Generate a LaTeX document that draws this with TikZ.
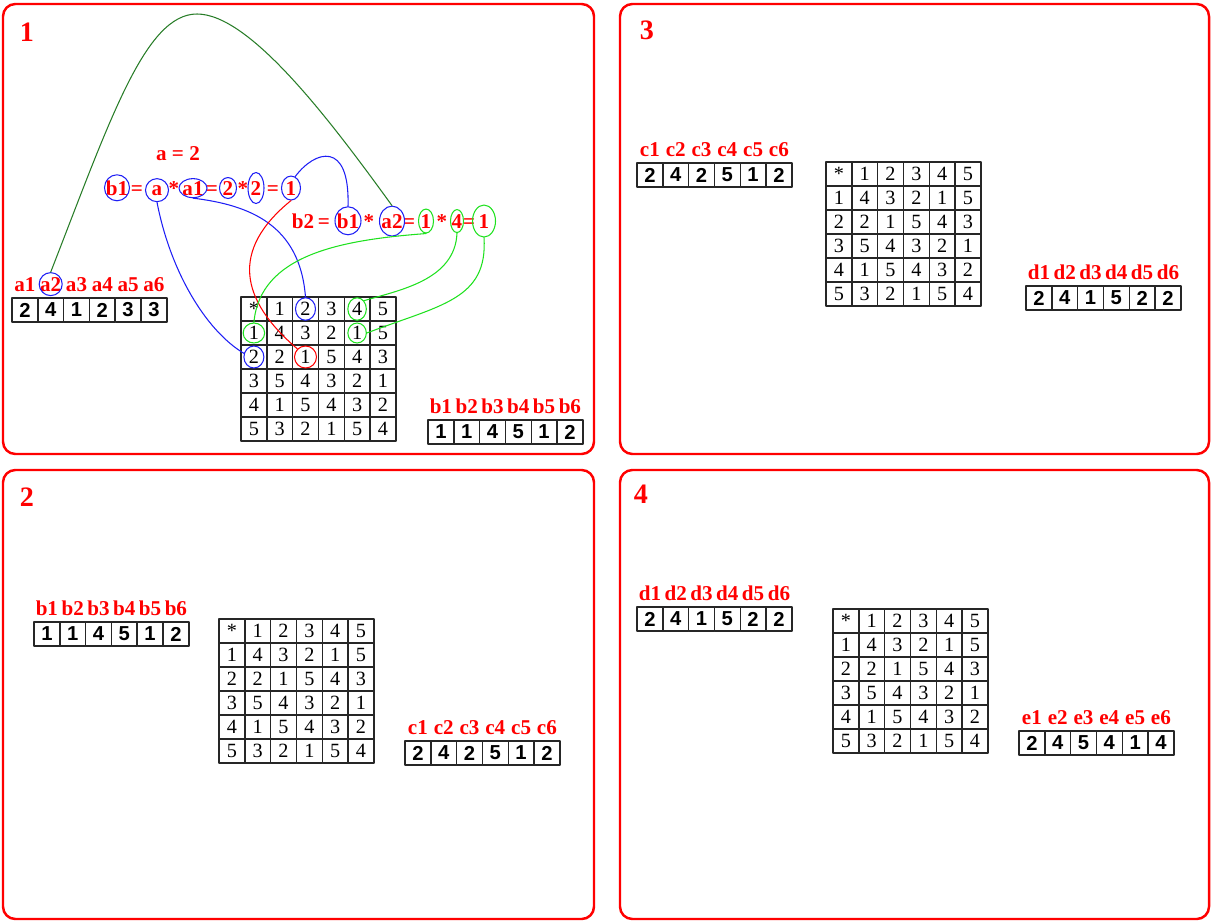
\documentclass[tikz,border=0pt]{standalone}
\usepackage{fontspec}
\setmainfont{Liberation Serif}
\setsansfont{Liberation Sans}
\usetikzlibrary{shapes.geometric}
\definecolor{labred}{RGB}{255,0,0}
\definecolor{ringblue}{RGB}{30,30,245}
\definecolor{lime}{RGB}{30,225,30}
\definecolor{archgreen}{RGB}{40,125,40}
\begin{document}
\begin{tikzpicture}[x=0.02cm, y=-0.02cm, line join=round, line cap=round,
	panel/.style={draw=labred, line width=1.4pt, rounded corners=7pt},
	lab/.style={text=labred, font=\fontsize{12}{14}\selectfont\bfseries, inner sep=0.5pt},
	pnum/.style={text=labred, font=\fontsize{16}{19}\selectfont\bfseries},
	acell/.style={draw=black!85, line width=0.8pt, minimum width=0.516cm, minimum height=0.48cm, inner sep=0pt, font=\sffamily\bfseries\fontsize{11.5}{13}\selectfont},
	tcell/.style={draw=black!85, line width=0.8pt, minimum width=0.516cm, minimum height=0.48cm, inner sep=0pt, font=\fontsize{11.5}{13}\selectfont},
	ring/.style={ellipse, draw, line width=0.6pt, inner sep=0pt},
	link/.style={line width=0.6pt}]
		\useasboundingbox (0,0) rectangle (1212,922);
		% the four panels
		\draw[panel] (3,4) rectangle (594,454);
		\draw[panel] (620,4) rectangle (1209,454);
		\draw[panel] (3,470) rectangle (594,919);
		\draw[panel] (620,470) rectangle (1209,919);
		\node[pnum] (n1) at (27,32) {1};
		\node[pnum] (n3) at (647,30) {3};
		\node[pnum] (n2) at (27,497) {2};
		\node[pnum] (n4) at (641,494) {4};
		% arrays with their labels
		\foreach \n/\l/\x/\y/\vals in {p1a/a/12/298/{2,4,1,2,3,3}, p1b/b/428/420/{1,1,4,5,1,2},
			p3c/c/637/163/{2,4,2,5,1,2}, p3d/d/1026/286/{2,4,1,5,2,2},
			p2b/b/34/622/{1,1,4,5,1,2}, p2c/c/405/741/{2,4,2,5,1,2},
			p4d/d/637/607/{2,4,1,5,2,2}, p4e/e/1019/731/{2,4,5,4,1,4}}
		\foreach \v [count=\i] in \vals {
			\node[acell] (\n-\i) at (\x+25.8*\i-12.9, \y+12) {\v};
			\node[lab, anchor=base] (\n-l\i) at (\x+25.8*\i-12.9, \y-7) {\l\i};
		}
		% multiplication tables
		\foreach \t/\x/\y in {t1/241/297, t3/826/162, t2/219/619, t4/833/609}
		\foreach \row [count=\r from 0] in {{*,1,2,3,4,5},{1,4,3,2,1,5},{2,2,1,5,4,3},{3,5,4,3,2,1},{4,1,5,4,3,2},{5,3,2,1,5,4}}
		\foreach \v [count=\c from 0] in \row
		\node[tcell] (\t-\r-\c) at (\x+25.8*\c+12.9, \y+24*\r+12) {\v};
		% equations
		\node[lab, anchor=base] (aval) at (178,161) {a = 2};
		\node[lab, anchor=base] (e1b1) at (117,195) {b1};
		\node[lab, anchor=base] (e1s1) at (137,195) {=};
		\node[lab, anchor=base] (e1a) at (157,195) {a};
		\node[lab, anchor=base] (e1s2) at (174,195) {*};
		\node[lab, anchor=base] (e1a1) at (193,195) {a1};
		\node[lab, anchor=base] (e1s3) at (212,195) {=};
		\node[lab, anchor=base] (e1n1) at (228,195) {2};
		\node[lab, anchor=base] (e1s4) at (243,195) {*};
		\node[lab, anchor=base] (e1n2) at (256,195) {2};
		\node[lab, anchor=base] (e1s5) at (273,195) {=};
		\node[lab, anchor=base] (e1r) at (291,195) {1};
		\node[lab, anchor=base] (e2b2) at (303,228) {b2};
		\node[lab, anchor=base] (e2s1) at (324,228) {=};
		\node[lab, anchor=base] (e2b1) at (348,228) {b1};
		\node[lab, anchor=base] (e2s2) at (369,228) {*};
		\node[lab, anchor=base] (e2a2) at (392,228) {a2};
		\node[lab, anchor=base] (e2s3) at (409,228) {=};
		\node[lab, anchor=base] (e2g1) at (426,228) {1};
		\node[lab, anchor=base] (e2s4) at (442,228) {*};
		\node[lab, anchor=base] (e2g4) at (457,228) {4};
		\node[lab, anchor=base] (e2s5) at (469,228) {=};
		\node[lab, anchor=base] (e2g5) at (484,228) {1};
		% rings
		\node[ring, draw=ringblue, minimum width=0.46cm, minimum height=0.46cm] (rl2) at (p1a-l2) {};
		\node[ring, draw=ringblue, minimum width=0.50cm, minimum height=0.52cm] (r1b1) at (e1b1) {};
		\node[ring, draw=ringblue, minimum width=0.46cm, minimum height=0.46cm] (r1a) at (e1a) {};
		\node[ring, draw=ringblue, minimum width=0.56cm, minimum height=0.38cm] (r1a1) at (e1a1) {};
		\node[ring, draw=ringblue, minimum width=0.34cm, minimum height=0.42cm] (r1n1) at (e1n1) {};
		\node[ring, draw=ringblue, minimum width=0.32cm, minimum height=0.62cm] (r1n2) at (e1n2) {};
		\node[ring, draw=ringblue, minimum width=0.38cm, minimum height=0.48cm] (r1r) at (e1r) {};
		\node[ring, draw=ringblue, minimum width=0.52cm, minimum height=0.56cm] (r2b1) at (e2b1) {};
		\node[ring, draw=ringblue, minimum width=0.50cm, minimum height=0.60cm] (r2a2) at (e2a2) {};
		\node[ring, draw=lime, minimum width=0.30cm, minimum height=0.48cm] (r2g1) at (e2g1) {};
		\node[ring, draw=lime, minimum width=0.26cm, minimum height=0.46cm] (r2g4) at (e2g4) {};
		\node[ring, draw=lime, minimum width=0.46cm, minimum height=0.64cm] (r2g5) at (e2g5) {};
		\node[ring, draw=ringblue, minimum width=0.40cm, minimum height=0.45cm] (rt02) at (t1-0-2) {};
		\node[ring, draw=lime, minimum width=0.37cm, minimum height=0.45cm] (rt04) at (t1-0-4) {};
		\node[ring, draw=lime, minimum width=0.43cm, minimum height=0.40cm] (rt10) at (t1-1-0) {};
		\node[ring, draw=lime, minimum width=0.37cm, minimum height=0.40cm] (rt14) at (t1-1-4) {};
		\node[ring, draw=ringblue, minimum width=0.40cm, minimum height=0.44cm] (rt20) at (t1-2-0) {};
		\node[ring, draw=labred, minimum width=0.44cm, minimum height=0.44cm] (rt22) at (t1-2-2) {};
		% links
		\draw[link, archgreen] (rl2.north) .. controls (110,120) and (145,14) .. (197,14) .. controls (250,14) and (330,120) .. (r2a2.north);
		\draw[link, ringblue] (r1r.70) .. controls (315,150) and (350,140) .. (r2b1.north);
		\draw[link, ringblue] (r1a.south) .. controls (170,270) and (205,330) .. (rt20.160);
		\draw[link, ringblue] (r1a1.south) .. controls (250,205) and (300,225) .. (rt02.north);
		\draw[link, labred] (r1r.south) .. controls (230,250) and (240,300) .. (rt22.north west);
		\draw[link, lime] (r2g1.south) .. controls (340,240) and (260,255) .. (rt10.north);
		\draw[link, lime] (r2g4.south) .. controls (455,280) and (400,290) .. (rt04.north east);
		\draw[link, lime] (r2g5.south) .. controls (488,300) and (440,305) .. (rt14.east);
	\end{tikzpicture}
\end{document}
